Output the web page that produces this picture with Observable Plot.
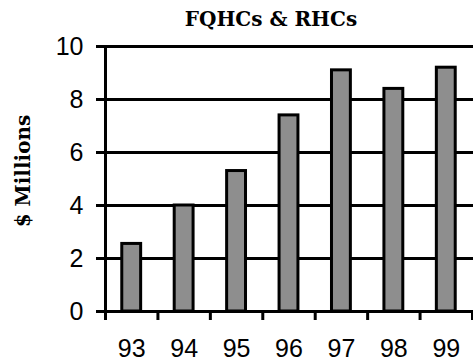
<!DOCTYPE html>
<html>
<head>
<meta charset="utf-8">
<script src="https://cdn.jsdelivr.net/npm/d3@7"></script>
<script src="https://cdn.jsdelivr.net/npm/@observablehq/plot@0.6"></script>
<style>
  html, body { margin: 0; padding: 0; background: #fff; }
  svg text { font-family: "Liberation Sans", Arial, sans-serif; }
  svg g.serif text { font-family: "DejaVu Serif", serif; }
</style>
</head>
<body>
<div id="chart"></div>
<script>
// Annual funding, $ millions, fiscal years 1993–1999
const years = [93, 94, 95, 96, 97, 98, 99];
const values = [2.55, 4.0, 5.3, 7.4, 9.1, 8.4, 9.2];
const yTicks = [0, 2, 4, 6, 8, 10];
const title = "FQHCs & RHCs";
const yLabel = "$ Millions";

const data = years.map((year, i) => ({year, value: values[i]}));
// tick marks sit on the boundaries between years
const boundaries = [...years.map(y => y - 0.5), years[years.length - 1] + 0.5];
const halfBar = 0.18;

const sans = "Liberation Sans";
const serif = "DejaVu Serif";

const chart = Plot.plot({
  width: 473,
  height: 364,
  marginLeft: 105,
  marginRight: 1,
  marginTop: 46,
  marginBottom: 53,
  style: {background: "#fff", fontFamily: sans, color: "#000", overflow: "visible"},
  x: {type: "linear", domain: [boundaries[0], boundaries[boundaries.length - 1]]},
  y: {domain: [0, 10]},
  marks: [
    // horizontal gridlines with their left ticks
    Plot.ruleY(yTicks, {stroke: "#000", strokeWidth: 3, x1: boundaries[0], x2: boundaries[boundaries.length - 1], insetLeft: -9, insetRight: -2}),
    Plot.axisY({ticks: yTicks, tickSize: 9, tickPadding: 13, fontSize: 25, fontFamily: sans, strokeWidth: 3, label: null, stroke: "#000", fill: "#000"}),
    Plot.rectY(data, {
      x1: d => d.year - halfBar,
      x2: d => d.year + halfBar,
      y: "value",
      fill: "#8e8e8e",
      stroke: "#000",
      strokeWidth: 3
    }),
    // x tick marks at year boundaries
    Plot.axisX({ticks: boundaries, tickSize: 9, strokeWidth: 3, stroke: "#000", text: null, label: null}),
    // year labels
    Plot.axisX({ticks: years, tickSize: 0, tickPadding: 28, fontSize: 25, fontFamily: sans, tickFormat: d => String(d), label: null, fill: "#000"}),
    // left axis line
    Plot.ruleX([boundaries[0]], {stroke: "#000", strokeWidth: 3}),
    Plot.text([title], {frameAnchor: "top", lineAnchor: "middle", textAnchor: "middle", dx: -18, dy: -27, fontFamily: serif, fontWeight: "bold", fontSize: 20, fill: "#000", className: "serif"}),
    Plot.text([yLabel], {frameAnchor: "left", lineAnchor: "middle", textAnchor: "middle", dx: -82, dy: -8, rotate: -90, fontFamily: serif, fontWeight: "bold", fontSize: 20, fill: "#000", className: "serif"})
  ]
});
document.getElementById("chart").appendChild(chart);
</script>
</body>
</html>
